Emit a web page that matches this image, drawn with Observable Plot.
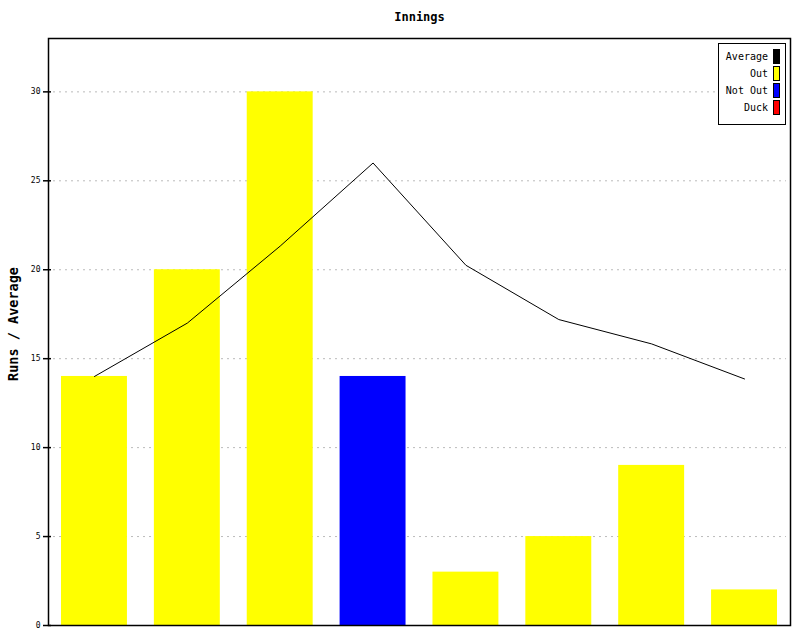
<!DOCTYPE html>
<html>
<head>
<meta charset="utf-8">
<script src="https://cdn.jsdelivr.net/npm/d3@7"></script>
<script src="https://cdn.jsdelivr.net/npm/@observablehq/plot@0.6"></script>
<style>
  html, body { margin: 0; padding: 0; background: #fff; }
  #wrap { position: relative; width: 800px; height: 640px; }
  #legend {
    position: absolute; left: 718px; top: 43px; width: 66px; height: 80px;
    border: 1px solid #000; background: #fff;
    font-family: "DejaVu Sans Mono", monospace; font-size: 10px; color: #000;
  }
  .row { position: absolute; right: 5px; height: 14px; display: flex; align-items: center; }
  .row span { margin-right: 5px; }
  .sw { width: 5px; height: 13px; border: 1px solid #000; }
</style>
</head>
<body>
<div id="wrap"></div>
<script>
const innings = ["1", "2", "3", "4", "5", "6", "7", "8"];
const runs = [14, 20, 30, 14, 3, 5, 9, 2];
const status = ["Out", "Out", "Out", "Not Out", "Out", "Out", "Out", "Out"];
const average = [14, 17, 21.33, 26, 20.25, 17.2, 15.83, 13.86];
const yTicks = [0, 5, 10, 15, 20, 25, 30];
const legendLabels = ["Average", "Out", "Not Out", "Duck"];
const legendColors = ["#000000", "#ffff00", "#0000ff", "#ff0000"];
const statusColors = {"Out": "#ffff00", "Not Out": "#0000ff", "Duck": "#ff0000"};

const data = innings.map((d, i) => ({inning: d, runs: runs[i], status: status[i], avg: average[i]}));
const mono = "DejaVu Sans Mono, monospace";

const chart = Plot.plot({
  width: 800,
  height: 640,
  marginLeft: 48,
  marginRight: 10,
  marginTop: 38,
  marginBottom: 15,
  style: {fontFamily: mono, background: "#fff"},
  x: {domain: innings, paddingInner: 0.29, paddingOuter: 0.14, round: false, axis: null},
  y: {domain: [0, 33], axis: null},
  marks: [
    Plot.ruleY(yTicks.filter(d => d > 0), {stroke: "#bbbbbb", strokeDasharray: "2,4", insetLeft: 5, insetRight: 4}),
    Plot.barY(data, {x: "inning", y: "runs", fill: d => statusColors[d.status]}),
    Plot.line(data, {x: "inning", y: "avg", stroke: "#000", strokeWidth: 1}),
    Plot.frame({stroke: "#000", strokeWidth: 1.5}),
    Plot.axisY({ticks: yTicks, tickSize: 8, dx: 3, tickPadding: 3, fontSize: 8, label: null, stroke: "#000", strokeWidth: 1.5}),
    Plot.text(["Innings"], {frameAnchor: "top", lineAnchor: "middle", dy: -21, fontSize: 12, fontWeight: "bold", fill: "#000"}),
    Plot.text(["Runs / Average"], {frameAnchor: "left", textAnchor: "middle", lineAnchor: "middle", dx: -35, dy: -8, rotate: -90, fontSize: 13.5, fontWeight: "bold", fill: "#000"})
  ]
});
document.getElementById("wrap").appendChild(chart);

const legend = document.createElement("div");
legend.id = "legend";
legendLabels.forEach((lab, i) => {
  const row = document.createElement("div");
  row.className = "row";
  row.style.top = (5 + i * 17) + "px";
  const s = document.createElement("span");
  s.textContent = lab;
  const sw = document.createElement("div");
  sw.className = "sw";
  sw.style.background = legendColors[i];
  row.appendChild(s);
  row.appendChild(sw);
  legend.appendChild(row);
});
document.getElementById("wrap").appendChild(legend);
</script>
</body>
</html>
